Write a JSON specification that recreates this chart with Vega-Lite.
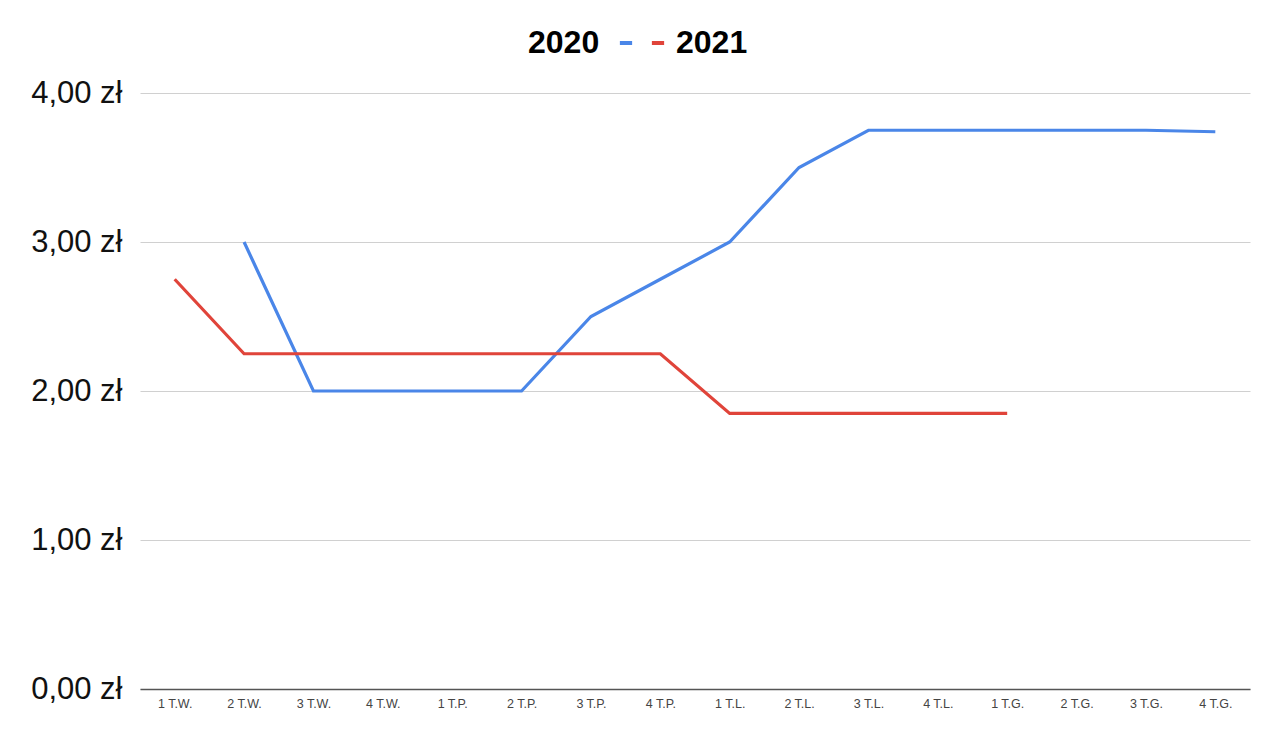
{
  "$schema": "https://vega.github.io/schema/vega-lite/v6.json",
  "width": 1110,
  "height": 596,
  "autosize": {"type": "none"},
  "padding": {"left": 140, "top": 93, "right": 30, "bottom": 58},
  "background": "white",
  "config": {"view": {"stroke": null}},
  "data": {
    "values": [
      {"tydzien": "2 T.W.", "rok": "2020", "cena": 3.00},
      {"tydzien": "3 T.W.", "rok": "2020", "cena": 2.00},
      {"tydzien": "4 T.W.", "rok": "2020", "cena": 2.00},
      {"tydzien": "1 T.P.", "rok": "2020", "cena": 2.00},
      {"tydzien": "2 T.P.", "rok": "2020", "cena": 2.00},
      {"tydzien": "3 T.P.", "rok": "2020", "cena": 2.50},
      {"tydzien": "4 T.P.", "rok": "2020", "cena": 2.75},
      {"tydzien": "1 T.L.", "rok": "2020", "cena": 3.00},
      {"tydzien": "2 T.L.", "rok": "2020", "cena": 3.50},
      {"tydzien": "3 T.L.", "rok": "2020", "cena": 3.75},
      {"tydzien": "4 T.L.", "rok": "2020", "cena": 3.75},
      {"tydzien": "1 T.G.", "rok": "2020", "cena": 3.75},
      {"tydzien": "2 T.G.", "rok": "2020", "cena": 3.75},
      {"tydzien": "3 T.G.", "rok": "2020", "cena": 3.75},
      {"tydzien": "4 T.G.", "rok": "2020", "cena": 3.74},
      {"tydzien": "1 T.W.", "rok": "2021", "cena": 2.75},
      {"tydzien": "2 T.W.", "rok": "2021", "cena": 2.25},
      {"tydzien": "3 T.W.", "rok": "2021", "cena": 2.25},
      {"tydzien": "4 T.W.", "rok": "2021", "cena": 2.25},
      {"tydzien": "1 T.P.", "rok": "2021", "cena": 2.25},
      {"tydzien": "2 T.P.", "rok": "2021", "cena": 2.25},
      {"tydzien": "3 T.P.", "rok": "2021", "cena": 2.25},
      {"tydzien": "4 T.P.", "rok": "2021", "cena": 2.25},
      {"tydzien": "1 T.L.", "rok": "2021", "cena": 1.85},
      {"tydzien": "2 T.L.", "rok": "2021", "cena": 1.85},
      {"tydzien": "3 T.L.", "rok": "2021", "cena": 1.85},
      {"tydzien": "4 T.L.", "rok": "2021", "cena": 1.85},
      {"tydzien": "1 T.G.", "rok": "2021", "cena": 1.85}
    ]
  },
  "mark": {"type": "line", "strokeWidth": 3.2, "strokeJoin": "miter"},
  "encoding": {
    "x": {
      "field": "tydzien",
      "type": "ordinal",
      "sort": ["1 T.W.", "2 T.W.", "3 T.W.", "4 T.W.", "1 T.P.", "2 T.P.", "3 T.P.", "4 T.P.", "1 T.L.", "2 T.L.", "3 T.L.", "4 T.L.", "1 T.G.", "2 T.G.", "3 T.G.", "4 T.G."],
      "scale": {"type": "point", "padding": 0.5},
      "axis": {
        "title": null,
        "labelAngle": 0,
        "labelFont": "Liberation Sans",
        "labelFontSize": 12.5,
        "labelColor": "#444444",
        "labelPadding": 8,
        "ticks": false,
        "domainColor": "#555555",
        "domainWidth": 1.5,
        "grid": false
      }
    },
    "y": {
      "field": "cena",
      "type": "quantitative",
      "scale": {"domain": [0, 4], "nice": false, "zero": true},
      "axis": {
        "title": null,
        "values": [0, 1, 2, 3, 4],
        "labelExpr": "replace(format(datum.value, '.2f'), '.', ',') + ' zł'",
        "labelFont": "Liberation Sans",
        "labelFontSize": 31,
        "labelColor": "#111111",
        "labelPadding": 18,
        "ticks": false,
        "domain": false,
        "grid": true,
        "gridColor": "#d0d0d0",
        "gridWidth": 1
      }
    },
    "color": {
      "field": "rok",
      "type": "nominal",
      "scale": {"domain": ["2020", "2021"], "range": ["#4a86e8", "#e0443a"]},
      "legend": {
        "orient": "none",
        "legendX": 388,
        "legendY": -66,
        "direction": "horizontal",
        "gridAlign": "none",
        "title": "2020",
        "titleOrient": "left",
        "titleFont": "Liberation Sans",
        "titleFontSize": 32,
        "titleFontWeight": "bold",
        "titleColor": "#000000",
        "titlePadding": 10,
        "labelExpr": "datum.label == '2020' ? '' : datum.label",
        "labelFont": "Liberation Sans",
        "labelFontSize": 32,
        "labelFontWeight": "bold",
        "labelColor": "#000000",
        "labelOffset": 2,
        "columnPadding": -2,
        "symbolType": "stroke",
        "symbolStrokeWidth": 4,
        "symbolSize": 150
      }
    }
  }
}
